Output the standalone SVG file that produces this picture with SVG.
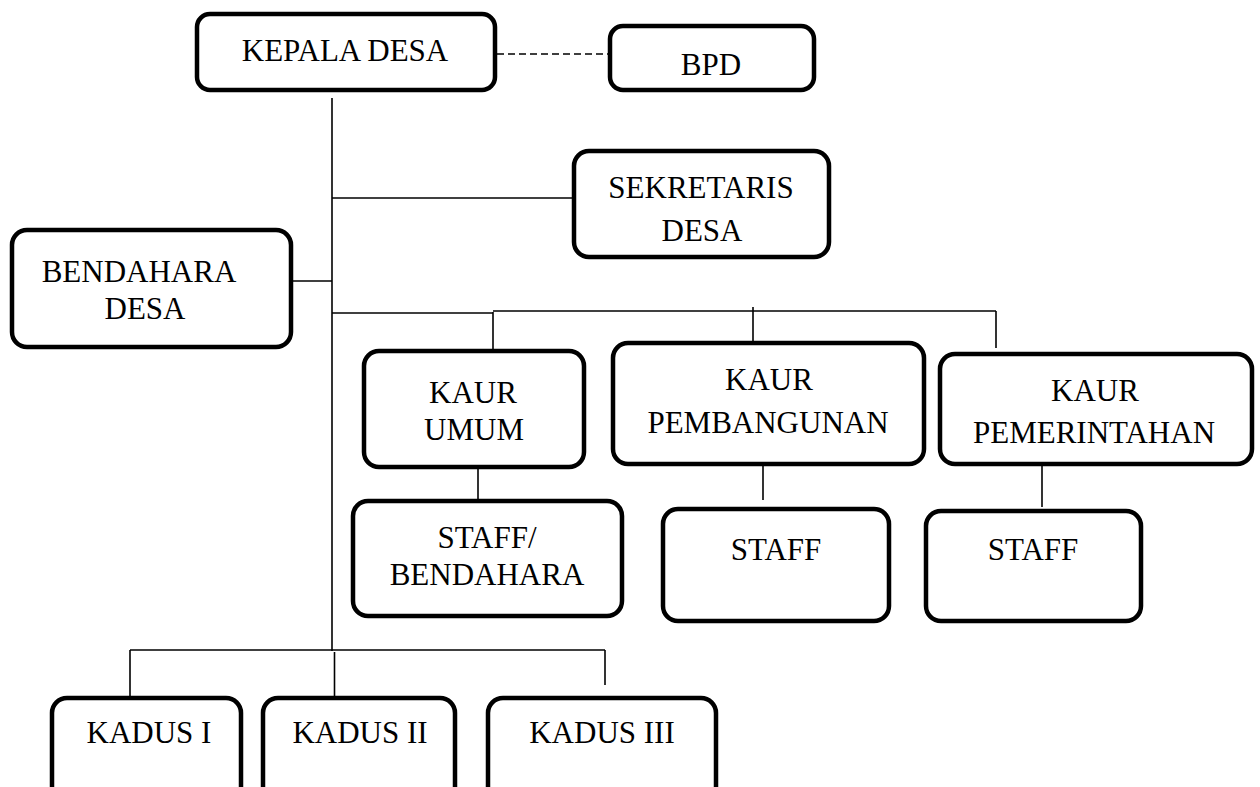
<svg xmlns="http://www.w3.org/2000/svg" width="1260" height="787" viewBox="0 0 1260 787">
<style>
.box{fill:#fff;stroke:#000;stroke-width:4.5}
.t{font-family:"Liberation Serif","Times New Roman",serif;font-size:31px;fill:#000;text-anchor:middle}
.ln{stroke:#000;stroke-width:1.6;fill:none}
</style>
<rect width="1260" height="787" fill="#fff"/>
<g id="connectors">
<line class="ln" x1="497" y1="54" x2="609" y2="54" stroke-dasharray="7,4"/>
<line class="ln" x1="332" y1="98" x2="332" y2="651"/>
<line class="ln" x1="332" y1="198" x2="573" y2="198"/>
<line class="ln" x1="292" y1="281" x2="332" y2="281"/>
<line class="ln" x1="332" y1="313" x2="493" y2="313"/>
<line class="ln" x1="493" y1="311" x2="996" y2="311"/>
<line class="ln" x1="493" y1="312" x2="493" y2="350"/>
<line class="ln" x1="753" y1="307" x2="753" y2="342"/>
<line class="ln" x1="996" y1="311" x2="996" y2="348"/>
<line class="ln" x1="478" y1="463" x2="478" y2="500"/>
<line class="ln" x1="763" y1="466" x2="763" y2="500"/>
<line class="ln" x1="1042" y1="465" x2="1042" y2="507"/>
<line class="ln" x1="130" y1="650" x2="605" y2="650"/>
<line class="ln" x1="130" y1="650" x2="130" y2="697"/>
<line class="ln" x1="334.5" y1="652" x2="334.5" y2="697"/>
<line class="ln" x1="605" y1="650" x2="605" y2="685"/>
</g>
<g id="kepala"><rect class="box" x="197" y="14" width="298" height="76" rx="13"/><text class="t" x="345" y="61">KEPALA DESA</text></g>
<g id="bpd"><rect class="box" x="610" y="26" width="204" height="64" rx="13"/><text class="t" x="711" y="75">BPD</text></g>
<g id="sekretaris"><rect class="box" x="574" y="151" width="255" height="106" rx="15"/><text class="t" x="701" y="198">SEKRETARIS</text><text class="t" x="702" y="241">DESA</text></g>
<g id="bendahara"><rect class="box" x="12" y="230" width="279" height="117" rx="15"/><text class="t" x="139" y="282">BENDAHARA</text><text class="t" x="145" y="319">DESA</text></g>
<g id="kaur-umum"><rect class="box" x="364" y="351" width="220" height="116" rx="15"/><text class="t" x="473" y="403">KAUR</text><text class="t" x="474" y="440">UMUM</text></g>
<g id="kaur-pembangunan"><rect class="box" x="613" y="343" width="311" height="121" rx="15"/><text class="t" x="769" y="390">KAUR</text><text class="t" x="768" y="433">PEMBANGUNAN</text></g>
<g id="kaur-pemerintahan"><rect class="box" x="940" y="354" width="312" height="110" rx="15"/><text class="t" x="1095" y="401">KAUR</text><text class="t" x="1094" y="443">PEMERINTAHAN</text></g>
<g id="staff-bendahara"><rect class="box" x="353" y="501" width="269" height="115" rx="15"/><text class="t" x="487" y="548">STAFF/</text><text class="t" x="487" y="585">BENDAHARA</text></g>
<g id="staff-pembangunan"><rect class="box" x="663" y="509" width="226" height="112" rx="15"/><text class="t" x="776" y="560">STAFF</text></g>
<g id="staff-pemerintahan"><rect class="box" x="926" y="511" width="215" height="110" rx="15"/><text class="t" x="1033" y="560">STAFF</text></g>
<g id="kadus1"><rect class="box" x="52" y="698" width="189" height="110" rx="15"/><text class="t" x="149" y="743">KADUS I</text></g>
<g id="kadus2"><rect class="box" x="263" y="698" width="192" height="110" rx="15"/><text class="t" x="360" y="743">KADUS II</text></g>
<g id="kadus3"><rect class="box" x="488" y="698" width="228" height="110" rx="15"/><text class="t" x="602" y="743">KADUS III</text></g>
</svg>
